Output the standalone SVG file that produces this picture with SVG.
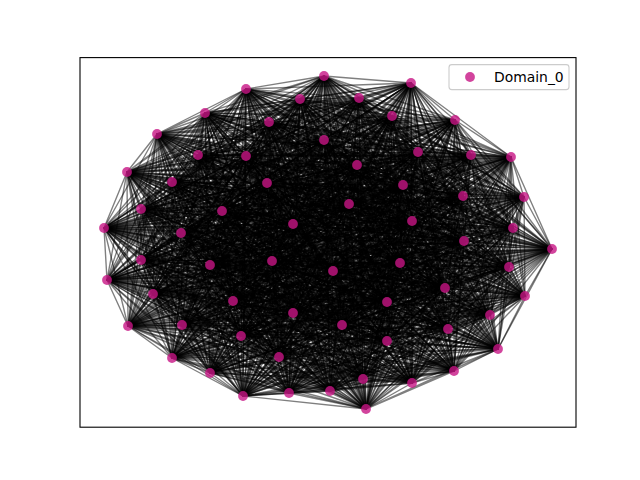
<svg xmlns="http://www.w3.org/2000/svg" width="640" height="480" viewBox="0 0 640 480">
<style>
.e{fill:none;stroke:#000;stroke-opacity:.5;stroke-width:1.39;stroke-linejoin:round}
.n{fill:#c71585;fill-opacity:.8}
</style>
<rect width="640" height="480" fill="#fff"/>
<g id="edges">
<polygon class="e" points="324,76 246,89 300,99 205,113 269,122 157,134 324,140 198,155 246,156 127,172 172,182 267,183 141,209 222,211 293,224 104,228 181,233 411,83 359,98 392,116 455,120 418,152 471,155 511,157 357,165 403,185 463,196 524,197 349,204 412,221 513,228 464,241 552,249 141,260 210,265 272,261 107,280 153,294 233,301 293,313 128,326 182,325 241,336 279,357 172,358 210,373 243,396 289,393 330,391 333,271 400,263 509,267 445,288 525,296 387,302 490,315 342,325 448,329 387,341 498,349 363,379 454,371 412,383 366,409"/>
<polygon class="e" points="324,76 205,113 324,140 127,172 141,209 104,228 359,98 418,152 357,165 524,197 513,228 141,260 107,280 293,313 241,336 210,373 330,391 509,267 387,302 448,329 363,379 366,409 300,99 157,134 246,156 267,183 293,224 411,83 455,120 511,157 463,196 412,221 552,249 272,261 233,301 182,325 172,358 289,393 400,263 525,296 342,325 498,349 412,383 246,89 269,122 198,155 172,182 222,211 181,233 392,116 471,155 403,185 349,204 464,241 210,265 153,294 128,326 279,357 243,396 333,271 445,288 490,315 387,341 454,371"/>
<polygon class="e" points="324,76 157,134 172,182 104,228 455,120 403,185 513,228 272,261 128,326 210,373 400,263 490,315 363,379 246,89 324,140 267,183 181,233 418,152 463,196 464,241 107,280 182,325 243,396 509,267 342,325 454,371 300,99 198,155 141,209 411,83 471,155 524,197 552,249 153,294 241,336 289,393 445,288 448,329 412,383 205,113 246,156 222,211 359,98 511,157 349,204 141,260 233,301 279,357 330,391 525,296 387,341 366,409 269,122 127,172 293,224 392,116 357,165 412,221 210,265 293,313 172,358 333,271 387,302 498,349"/>
<polygon class="e" points="324,76 198,155 293,224 418,152 349,204 272,261 241,336 333,271 342,325 366,409 324,140 222,211 455,120 524,197 210,265 182,325 330,391 490,315 412,383 157,134 141,209 392,116 463,196 141,260 128,326 289,393 387,302 454,371 269,122 267,183 359,98 403,185 552,249 293,313 243,396 525,296 363,379 205,113 172,182 411,83 357,165 464,241 233,301 210,373 445,288 498,349 300,99 127,172 181,233 511,157 513,228 153,294 172,358 509,267 387,341 246,89 246,156 104,228 471,155 412,221 107,280 279,357 400,263 448,329"/>
<polygon class="e" points="324,76 127,172 359,98 524,197 107,280 210,373 387,302 366,409 246,156 411,83 463,196 272,261 172,358 525,296 412,383 198,155 181,233 403,185 210,265 279,357 445,288 454,371 324,140 104,228 357,165 141,260 241,336 509,267 363,379 157,134 293,224 511,157 552,249 182,325 400,263 498,349 269,122 222,211 471,155 464,241 128,326 333,271 387,341 205,113 141,209 418,152 513,228 293,313 330,391 448,329 300,99 267,183 455,120 412,221 233,301 289,393 342,325 246,89 172,182 392,116 349,204 153,294 243,396 490,315"/>
<polygon class="e" points="324,76 267,183 471,155 141,260 172,358 490,315 300,99 222,211 357,165 272,261 243,396 448,329 269,122 104,228 463,196 153,294 330,391 498,349 324,140 411,83 349,204 293,313 400,263 454,371 246,156 392,116 513,228 182,325 445,288 366,409 172,182 418,152 552,249 279,357 387,302 246,89 141,209 511,157 210,265 210,373 342,325 205,113 293,224 403,185 107,280 289,393 387,341 157,134 181,233 524,197 233,301 333,271 363,379 198,155 359,98 412,221 128,326 509,267 412,383 127,172 455,120 464,241 241,336 525,296"/>
<polygon class="e" points="324,76 222,211 463,196 293,313 445,288 246,89 293,224 524,197 128,326 525,296 300,99 104,228 349,204 182,325 387,302 205,113 181,233 412,221 241,336 490,315 269,122 411,83 513,228 279,357 342,325 157,134 359,98 464,241 172,358 448,329 324,140 392,116 552,249 210,373 387,341 198,155 455,120 141,260 243,396 498,349 246,156 418,152 210,265 289,393 363,379 127,172 471,155 272,261 330,391 454,371 172,182 511,157 107,280 333,271 412,383 267,183 357,165 153,294 400,263 366,409 141,209 403,185 233,301 509,267"/>
<polygon class="e" points="324,76 104,228 513,228 210,373 363,379 267,183 463,196 182,325 342,325 198,155 471,155 153,294 445,288 205,113 359,98 141,260 330,391 366,409 293,224 412,221 172,358 498,349 172,182 403,185 128,326 490,315 324,140 418,152 107,280 509,267 300,99 411,83 552,249 289,393 412,383 222,211 349,204 279,357 387,341 127,172 357,165 293,313 387,302 157,134 455,120 272,261 400,263 246,89 181,233 464,241 243,396 454,371 141,209 524,197 241,336 448,329 246,156 511,157 233,301 525,296 269,122 392,116 210,265 333,271"/>
<polygon class="e" points="324,76 411,83 210,265 509,267 269,122 418,152 233,301 490,315 246,156 403,185 241,336 498,349 141,209 412,221 243,396 366,409 181,233 141,260 400,263 205,113 455,120 153,294 387,302 198,155 357,165 182,325 387,341 267,183 349,204 210,373 412,383 104,228 552,249 333,271 300,99 392,116 107,280 525,296 324,140 511,157 128,326 448,329 172,182 524,197 172,358 454,371 293,224 464,241 330,391 246,89 359,98 272,261 445,288 157,134 471,155 293,313 342,325 127,172 463,196 279,357 363,379 222,211 513,228 289,393"/>
<polygon class="e" points="324,76 392,116 233,301 448,329 141,209 464,241 400,263 157,134 357,165 279,357 412,383 411,83 107,280 490,315 172,182 412,221 330,391 205,113 471,155 182,325 363,379 104,228 210,265 525,296 246,156 524,197 243,396 246,89 455,120 293,313 387,341 222,211 552,249 509,267 324,140 403,185 172,358 366,409 359,98 153,294 342,325 267,183 513,228 333,271 269,122 511,157 241,336 454,371 181,233 272,261 387,302 127,172 349,204 289,393 300,99 418,152 128,326 498,349 293,224 141,260 445,288 198,155 463,196 210,373"/>
<polygon class="e" points="324,76 418,152 241,336 366,409 455,120 182,325 412,383 392,116 128,326 454,371 359,98 293,313 363,379 411,83 233,301 498,349 181,233 153,294 387,341 104,228 107,280 448,329 293,224 272,261 342,325 222,211 210,265 490,315 141,209 141,260 387,302 267,183 552,249 525,296 172,182 464,241 445,288 127,172 513,228 509,267 246,156 412,221 400,263 198,155 349,204 333,271 324,140 524,197 330,391 157,134 463,196 289,393 269,122 403,185 243,396 205,113 357,165 210,373 300,99 511,157 172,358 246,89 471,155 279,357"/>
<polygon class="e" points="324,76 511,157 243,396 157,134 349,204 509,267 172,182 141,260 342,325 104,228 233,301 454,371 455,120 279,357 300,99 403,185 330,391 198,155 513,228 525,296 141,209 272,261 387,341 411,83 128,326 366,409 471,155 210,373 269,122 524,197 400,263 127,172 552,249 490,315 293,224 153,294 363,379 392,116 241,336 246,89 357,165 289,393 324,140 412,221 445,288 267,183 210,265 448,329 181,233 293,313 412,383 418,152 172,358 205,113 463,196 333,271 246,156 464,241 387,302 222,211 107,280 498,349 359,98 182,325"/>
<polygon class="e" points="324,76 403,185 400,263 267,183 107,280 454,371 471,155 289,393 246,156 141,260 387,341 392,116 172,358 157,134 513,228 490,315 181,233 182,325 300,99 524,197 445,288 222,211 233,301 366,409 357,165 333,271 172,182 272,261 363,379 418,152 243,396 198,155 552,249 448,329 359,98 279,357 269,122 412,221 387,302 104,228 128,326 246,89 463,196 509,267 141,209 153,294 412,383 511,157 330,391 127,172 210,265 498,349 455,120 210,373 324,140 464,241 342,325 411,83 241,336 205,113 349,204 525,296 293,224 293,313"/>
<polygon class="e" points="324,76 524,197 387,302 411,83 172,358 198,155 210,265 454,371 357,165 509,267 293,224 182,325 269,122 464,241 387,341 418,152 330,391 267,183 233,301 246,89 349,204 490,315 359,98 210,373 246,156 272,261 412,383 403,185 445,288 104,228 241,336 157,134 552,249 498,349 471,155 333,271 141,209 293,313 300,99 412,221 342,325 392,116 243,396 127,172 107,280 366,409 463,196 525,296 181,233 279,357 324,140 141,260 363,379 511,157 400,263 222,211 128,326 205,113 513,228 448,329 455,120 289,393 172,182 153,294"/>
<polygon class="e" points="324,76 412,221 387,341 511,157 445,288 411,83 243,396 267,183 128,326 157,134 210,265 366,409 349,204 448,329 471,155 509,267 181,233 210,373 172,182 293,313 269,122 141,260 412,383 524,197 342,325 418,152 400,263 104,228 172,358 127,172 233,301 205,113 552,249 454,371 463,196 490,315 455,120 333,271 293,224 279,357 246,156 153,294 300,99 464,241 363,379 403,185 387,302 392,116 330,391 222,211 241,336 198,155 107,280 246,89 513,228 498,349 357,165 525,296 359,98 289,393 141,209 182,325 324,140 272,261"/>
<polygon class="e" points="324,76 464,241 412,383 412,221 363,379 524,197 387,341 403,185 342,325 511,157 387,302 418,152 445,288 392,116 400,263 411,83 330,391 104,228 243,396 222,211 172,358 267,183 241,336 127,172 128,326 198,155 233,301 157,134 107,280 205,113 210,265 246,89 552,249 366,409 513,228 454,371 349,204 498,349 463,196 448,329 357,165 490,315 471,155 525,296 455,120 509,267 359,98 333,271 181,233 289,393 293,224 210,373 141,209 279,357 172,182 182,325 246,156 293,313 324,140 153,294 269,122 272,261 300,99 141,260"/>
<polyline class="e" points="324,76 300,99 412,383 269,122 363,379 324,140 387,341 246,156 342,325 172,182 387,302 141,209 445,288 293,224 400,263 181,233 330,391 359,98 243,396 455,120 172,358 471,155 241,336 357,165 128,326 463,196 233,301 349,204 107,280 513,228 210,265 552,249"/>
<polyline class="e" points="300,99 269,122 324,76 324,140 412,383 246,156 363,379 172,182 387,341 141,209 342,325 293,224 387,302 181,233 445,288 359,98 400,263 455,120 330,391 471,155 243,396 357,165 172,358 463,196 241,336 349,204 128,326 513,228 233,301 552,249 107,280 210,265"/>
<polyline class="e" points="269,122 324,140 300,99 246,156 324,76 172,182 412,383 141,209 363,379 293,224 387,341 181,233 342,325 359,98 387,302 455,120 445,288 471,155 400,263 357,165 330,391 463,196 243,396 349,204 172,358 513,228 241,336 552,249 128,326 210,265 233,301 107,280"/>
<polyline class="e" points="324,140 246,156 269,122 172,182 300,99 141,209 324,76 293,224 412,383 181,233 363,379 359,98 387,341 455,120 342,325 471,155 387,302 357,165 445,288 463,196 400,263 349,204 330,391 513,228 243,396 552,249 172,358 210,265 241,336 107,280 128,326 233,301"/>
<polyline class="e" points="246,156 172,182 324,140 141,209 269,122 293,224 300,99 181,233 324,76 359,98 412,383 455,120 363,379 471,155 387,341 357,165 342,325 463,196 387,302 349,204 445,288 513,228 400,263 552,249 330,391 210,265 243,396 107,280 172,358 233,301 241,336 128,326"/>
<polyline class="e" points="172,182 141,209 246,156 293,224 324,140 181,233 269,122 359,98 300,99 455,120 324,76 471,155 412,383 357,165 363,379 463,196 387,341 349,204 342,325 513,228 387,302 552,249 445,288 210,265 400,263 107,280 330,391 233,301 243,396 128,326 172,358 241,336"/>
<polyline class="e" points="141,209 293,224 172,182 181,233 246,156 359,98 324,140 455,120 269,122 471,155 300,99 357,165 324,76 463,196 412,383 349,204 363,379 513,228 387,341 552,249 342,325 210,265 387,302 107,280 445,288 233,301 400,263 128,326 330,391 241,336 243,396 172,358"/>
<polyline class="e" points="293,224 181,233 141,209 359,98 172,182 455,120 246,156 471,155 324,140 357,165 269,122 463,196 300,99 349,204 324,76 513,228 412,383 552,249 363,379 210,265 387,341 107,280 342,325 233,301 387,302 128,326 445,288 241,336 400,263 172,358 330,391 243,396"/>
<polyline class="e" points="181,233 359,98 293,224 455,120 141,209 471,155 172,182 357,165 246,156 463,196 324,140 349,204 269,122 513,228 300,99 552,249 324,76 210,265 412,383 107,280 363,379 233,301 387,341 128,326 342,325 241,336 387,302 172,358 445,288 243,396 400,263 330,391"/>
<polyline class="e" points="359,98 455,120 181,233 471,155 293,224 357,165 141,209 463,196 172,182 349,204 246,156 513,228 324,140 552,249 269,122 210,265 300,99 107,280 324,76 233,301 412,383 128,326 363,379 241,336 387,341 172,358 342,325 243,396 387,302 330,391 445,288 400,263"/>
<polyline class="e" points="455,120 471,155 359,98 357,165 181,233 463,196 293,224 349,204 141,209 513,228 172,182 552,249 246,156 210,265 324,140 107,280 269,122 233,301 300,99 128,326 324,76 241,336 412,383 172,358 363,379 243,396 387,341 330,391 342,325 400,263 387,302 445,288"/>
<polyline class="e" points="471,155 357,165 455,120 463,196 359,98 349,204 181,233 513,228 293,224 552,249 141,209 210,265 172,182 107,280 246,156 233,301 324,140 128,326 269,122 241,336 300,99 172,358 324,76 243,396 412,383 330,391 363,379 400,263 387,341 445,288 342,325 387,302"/>
<polyline class="e" points="357,165 463,196 471,155 349,204 455,120 513,228 359,98 552,249 181,233 210,265 293,224 107,280 141,209 233,301 172,182 128,326 246,156 241,336 324,140 172,358 269,122 243,396 300,99 330,391 324,76 400,263 412,383 445,288 363,379 387,302 387,341 342,325"/>
<polyline class="e" points="463,196 349,204 357,165 513,228 471,155 552,249 455,120 210,265 359,98 107,280 181,233 233,301 293,224 128,326 141,209 241,336 172,182 172,358 246,156 243,396 324,140 330,391 269,122 400,263 300,99 445,288 324,76 387,302 412,383 342,325 363,379 387,341"/>
<polyline class="e" points="349,204 513,228 463,196 552,249 357,165 210,265 471,155 107,280 455,120 233,301 359,98 128,326 181,233 241,336 293,224 172,358 141,209 243,396 172,182 330,391 246,156 400,263 324,140 445,288 269,122 387,302 300,99 342,325 324,76 387,341 412,383 363,379"/>
<polyline class="e" points="513,228 552,249 349,204 210,265 463,196 107,280 357,165 233,301 471,155 128,326 455,120 241,336 359,98 172,358 181,233 243,396 293,224 330,391 141,209 400,263 172,182 445,288 246,156 387,302 324,140 342,325 269,122 387,341 300,99 363,379 324,76 412,383"/>
<polyline class="e" points="246,89 205,113 366,409 157,134 454,371 198,155 498,349 127,172 448,329 267,183 490,315 222,211 525,296 104,228 509,267 411,83 333,271 392,116 289,393 418,152 210,373 511,157 279,357 403,185 182,325 524,197 293,313 412,221 153,294 464,241 272,261 141,260"/>
<polyline class="e" points="205,113 157,134 246,89 198,155 366,409 127,172 454,371 267,183 498,349 222,211 448,329 104,228 490,315 411,83 525,296 392,116 509,267 418,152 333,271 511,157 289,393 403,185 210,373 524,197 279,357 412,221 182,325 464,241 293,313 141,260 153,294 272,261"/>
<polyline class="e" points="157,134 198,155 205,113 127,172 246,89 267,183 366,409 222,211 454,371 104,228 498,349 411,83 448,329 392,116 490,315 418,152 525,296 511,157 509,267 403,185 333,271 524,197 289,393 412,221 210,373 464,241 279,357 141,260 182,325 272,261 293,313 153,294"/>
<polyline class="e" points="198,155 127,172 157,134 267,183 205,113 222,211 246,89 104,228 366,409 411,83 454,371 392,116 498,349 418,152 448,329 511,157 490,315 403,185 525,296 524,197 509,267 412,221 333,271 464,241 289,393 141,260 210,373 272,261 279,357 153,294 182,325 293,313"/>
<polyline class="e" points="127,172 267,183 198,155 222,211 157,134 104,228 205,113 411,83 246,89 392,116 366,409 418,152 454,371 511,157 498,349 403,185 448,329 524,197 490,315 412,221 525,296 464,241 509,267 141,260 333,271 272,261 289,393 153,294 210,373 293,313 279,357 182,325"/>
<polyline class="e" points="267,183 222,211 127,172 104,228 198,155 411,83 157,134 392,116 205,113 418,152 246,89 511,157 366,409 403,185 454,371 524,197 498,349 412,221 448,329 464,241 490,315 141,260 525,296 272,261 509,267 153,294 333,271 293,313 289,393 182,325 210,373 279,357"/>
<polyline class="e" points="222,211 104,228 267,183 411,83 127,172 392,116 198,155 418,152 157,134 511,157 205,113 403,185 246,89 524,197 366,409 412,221 454,371 464,241 498,349 141,260 448,329 272,261 490,315 153,294 525,296 293,313 509,267 182,325 333,271 279,357 289,393 210,373"/>
<polyline class="e" points="104,228 411,83 222,211 392,116 267,183 418,152 127,172 511,157 198,155 403,185 157,134 524,197 205,113 412,221 246,89 464,241 366,409 141,260 454,371 272,261 498,349 153,294 448,329 293,313 490,315 182,325 525,296 279,357 509,267 210,373 333,271 289,393"/>
<polyline class="e" points="411,83 392,116 104,228 418,152 222,211 511,157 267,183 403,185 127,172 524,197 198,155 412,221 157,134 464,241 205,113 141,260 246,89 272,261 366,409 153,294 454,371 293,313 498,349 182,325 448,329 279,357 490,315 210,373 525,296 289,393 509,267 333,271"/>
<polyline class="e" points="392,116 418,152 411,83 511,157 104,228 403,185 222,211 524,197 267,183 412,221 127,172 464,241 198,155 141,260 157,134 272,261 205,113 153,294 246,89 293,313 366,409 182,325 454,371 279,357 498,349 210,373 448,329 289,393 490,315 333,271 525,296 509,267"/>
<polyline class="e" points="418,152 511,157 392,116 403,185 411,83 524,197 104,228 412,221 222,211 464,241 267,183 141,260 127,172 272,261 198,155 153,294 157,134 293,313 205,113 182,325 246,89 279,357 366,409 210,373 454,371 289,393 498,349 333,271 448,329 509,267 490,315 525,296"/>
<polyline class="e" points="511,157 403,185 418,152 524,197 392,116 412,221 411,83 464,241 104,228 141,260 222,211 272,261 267,183 153,294 127,172 293,313 198,155 182,325 157,134 279,357 205,113 210,373 246,89 289,393 366,409 333,271 454,371 509,267 498,349 525,296 448,329 490,315"/>
<polyline class="e" points="403,185 524,197 511,157 412,221 418,152 464,241 392,116 141,260 411,83 272,261 104,228 153,294 222,211 293,313 267,183 182,325 127,172 279,357 198,155 210,373 157,134 289,393 205,113 333,271 246,89 509,267 366,409 525,296 454,371 490,315 498,349 448,329"/>
<polyline class="e" points="524,197 412,221 403,185 464,241 511,157 141,260 418,152 272,261 392,116 153,294 411,83 293,313 104,228 182,325 222,211 279,357 267,183 210,373 127,172 289,393 198,155 333,271 157,134 509,267 205,113 525,296 246,89 490,315 366,409 448,329 454,371 498,349"/>
<polyline class="e" points="412,221 464,241 524,197 141,260 403,185 272,261 511,157 153,294 418,152 293,313 392,116 182,325 411,83 279,357 104,228 210,373 222,211 289,393 267,183 333,271 127,172 509,267 198,155 525,296 157,134 490,315 205,113 448,329 246,89 498,349 366,409 454,371"/>
<polyline class="e" points="464,241 141,260 412,221 272,261 524,197 153,294 403,185 293,313 511,157 182,325 418,152 279,357 392,116 210,373 411,83 289,393 104,228 333,271 222,211 509,267 267,183 525,296 127,172 490,315 198,155 448,329 157,134 498,349 205,113 454,371 246,89 366,409"/>
</g>
<g id="nodes">
<g id="n0"><circle class="n" cx="324" cy="76" r="4.9"/></g>
<g id="n1"><circle class="n" cx="246" cy="89" r="4.9"/></g>
<g id="n2"><circle class="n" cx="300" cy="99" r="4.9"/></g>
<g id="n3"><circle class="n" cx="205" cy="113" r="4.9"/></g>
<g id="n4"><circle class="n" cx="269" cy="122" r="4.9"/></g>
<g id="n5"><circle class="n" cx="157" cy="134" r="4.9"/></g>
<g id="n6"><circle class="n" cx="324" cy="140" r="4.9"/></g>
<g id="n7"><circle class="n" cx="198" cy="155" r="4.9"/></g>
<g id="n8"><circle class="n" cx="246" cy="156" r="4.9"/></g>
<g id="n9"><circle class="n" cx="127" cy="172" r="4.9"/></g>
<g id="n10"><circle class="n" cx="172" cy="182" r="4.9"/></g>
<g id="n11"><circle class="n" cx="267" cy="183" r="4.9"/></g>
<g id="n12"><circle class="n" cx="141" cy="209" r="4.9"/></g>
<g id="n13"><circle class="n" cx="222" cy="211" r="4.9"/></g>
<g id="n14"><circle class="n" cx="293" cy="224" r="4.9"/></g>
<g id="n15"><circle class="n" cx="104" cy="228" r="4.9"/></g>
<g id="n16"><circle class="n" cx="181" cy="233" r="4.9"/></g>
<g id="n17"><circle class="n" cx="411" cy="83" r="4.9"/></g>
<g id="n18"><circle class="n" cx="359" cy="98" r="4.9"/></g>
<g id="n19"><circle class="n" cx="392" cy="116" r="4.9"/></g>
<g id="n20"><circle class="n" cx="455" cy="120" r="4.9"/></g>
<g id="n21"><circle class="n" cx="418" cy="152" r="4.9"/></g>
<g id="n22"><circle class="n" cx="471" cy="155" r="4.9"/></g>
<g id="n23"><circle class="n" cx="511" cy="157" r="4.9"/></g>
<g id="n24"><circle class="n" cx="357" cy="165" r="4.9"/></g>
<g id="n25"><circle class="n" cx="403" cy="185" r="4.9"/></g>
<g id="n26"><circle class="n" cx="463" cy="196" r="4.9"/></g>
<g id="n27"><circle class="n" cx="524" cy="197" r="4.9"/></g>
<g id="n28"><circle class="n" cx="349" cy="204" r="4.9"/></g>
<g id="n29"><circle class="n" cx="412" cy="221" r="4.9"/></g>
<g id="n30"><circle class="n" cx="513" cy="228" r="4.9"/></g>
<g id="n31"><circle class="n" cx="464" cy="241" r="4.9"/></g>
<g id="n32"><circle class="n" cx="552" cy="249" r="4.9"/></g>
<g id="n33"><circle class="n" cx="141" cy="260" r="4.9"/></g>
<g id="n34"><circle class="n" cx="210" cy="265" r="4.9"/></g>
<g id="n35"><circle class="n" cx="272" cy="261" r="4.9"/></g>
<g id="n36"><circle class="n" cx="107" cy="280" r="4.9"/></g>
<g id="n37"><circle class="n" cx="153" cy="294" r="4.9"/></g>
<g id="n38"><circle class="n" cx="233" cy="301" r="4.9"/></g>
<g id="n39"><circle class="n" cx="293" cy="313" r="4.9"/></g>
<g id="n40"><circle class="n" cx="128" cy="326" r="4.9"/></g>
<g id="n41"><circle class="n" cx="182" cy="325" r="4.9"/></g>
<g id="n42"><circle class="n" cx="241" cy="336" r="4.9"/></g>
<g id="n43"><circle class="n" cx="279" cy="357" r="4.9"/></g>
<g id="n44"><circle class="n" cx="172" cy="358" r="4.9"/></g>
<g id="n45"><circle class="n" cx="210" cy="373" r="4.9"/></g>
<g id="n46"><circle class="n" cx="243" cy="396" r="4.9"/></g>
<g id="n47"><circle class="n" cx="289" cy="393" r="4.9"/></g>
<g id="n48"><circle class="n" cx="330" cy="391" r="4.9"/></g>
<g id="n49"><circle class="n" cx="333" cy="271" r="4.9"/></g>
<g id="n50"><circle class="n" cx="400" cy="263" r="4.9"/></g>
<g id="n51"><circle class="n" cx="509" cy="267" r="4.9"/></g>
<g id="n52"><circle class="n" cx="445" cy="288" r="4.9"/></g>
<g id="n53"><circle class="n" cx="525" cy="296" r="4.9"/></g>
<g id="n54"><circle class="n" cx="387" cy="302" r="4.9"/></g>
<g id="n55"><circle class="n" cx="490" cy="315" r="4.9"/></g>
<g id="n56"><circle class="n" cx="342" cy="325" r="4.9"/></g>
<g id="n57"><circle class="n" cx="448" cy="329" r="4.9"/></g>
<g id="n58"><circle class="n" cx="387" cy="341" r="4.9"/></g>
<g id="n59"><circle class="n" cx="498" cy="349" r="4.9"/></g>
<g id="n60"><circle class="n" cx="363" cy="379" r="4.9"/></g>
<g id="n61"><circle class="n" cx="454" cy="371" r="4.9"/></g>
<g id="n62"><circle class="n" cx="412" cy="383" r="4.9"/></g>
<g id="n63"><circle class="n" cx="366" cy="409" r="4.9"/></g>
</g>
<g id="legend">
<rect x="449" y="64.6" width="120" height="25" rx="2.8" fill="#fff" fill-opacity=".8" stroke="#ccc" stroke-width="1.1"/>
<circle class="n" cx="470" cy="77" r="4.9"/>
<text x="494" y="81.5" font-family="DejaVu Sans, sans-serif" font-size="13.9" fill="#000">Domain_0</text>
</g>
<rect id="axes" x="80" y="57.6" width="496" height="369.6" fill="none" stroke="#000" stroke-width="1.1"/>
</svg>
